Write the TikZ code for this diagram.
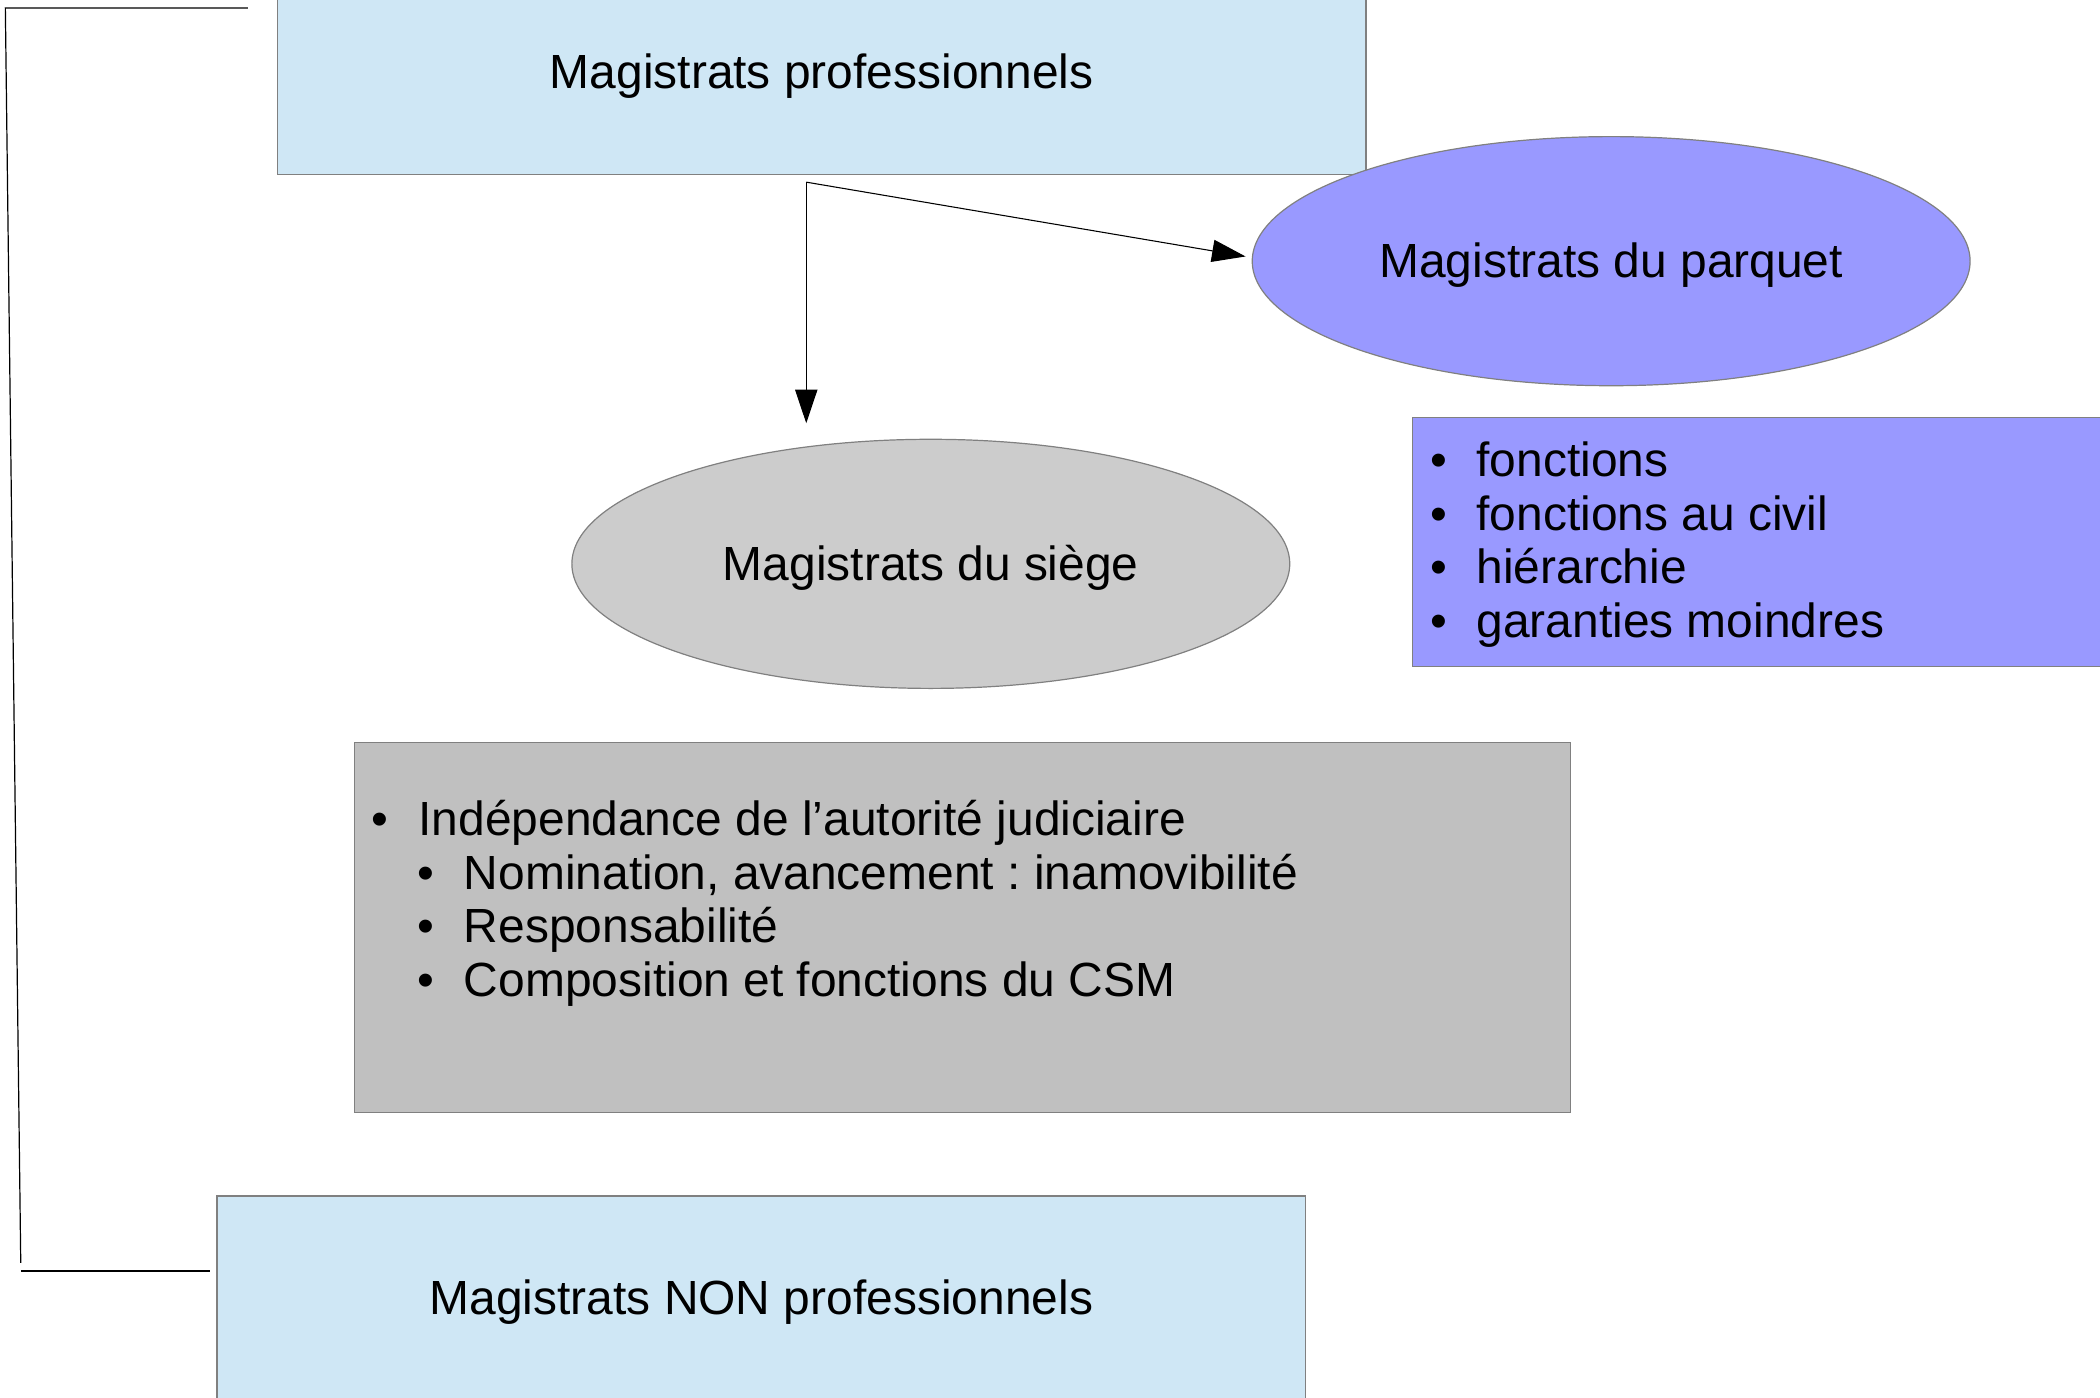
\documentclass[tikz,border=0pt]{standalone}
\usepackage{fontspec}
\setmainfont{Liberation Sans}
\usetikzlibrary{arrows.meta,shapes.geometric}
\definecolor{paleblue}{RGB}{207,231,245}
\definecolor{parquetc}{RGB}{153,153,255}
\definecolor{siegec}{RGB}{204,204,204}
\definecolor{graybox}{RGB}{192,192,192}
\definecolor{edgec}{RGB}{128,128,128}
\newcommand{\lowered}[1]{\raisebox{-1.5pt}[\height][\depth]{#1}}
\tikzset{
  base/.style={draw=edgec, line width=0.45pt, inner sep=0pt, font=\fontsize{17.9}{20}\selectfont},
  bluebox/.style={base, fill=paleblue, rectangle, minimum width=406.5pt, minimum height=76pt},
  ovalnode/.style={base, ellipse, minimum width=268pt, minimum height=93pt},
  listbox/.style={base, rectangle},
  itemtext/.style={anchor=base west, inner sep=0pt, font=\fontsize{17.9}{20}\selectfont},
  conn/.style={draw=black, line width=0.4pt, -{Triangle[length=12.5pt,width=8.3pt]}},
  bracketline/.style={draw=black, line width=0.45pt},
}
\begin{document}
\frenchspacing
\begin{tikzpicture}[x=0.5pt,y=-0.5pt]
\useasboundingbox (0,0) rectangle (1568,1043.8);
\clip (0,0) rectangle (1568,1043.8);
% boxes
\node[bluebox] (pro) at (613.5,54) {\lowered{Magistrats professionnels}};
\node[bluebox] (nonpro) at (568.5,969) {\lowered{Magistrats NON professionnels}};
\node[ovalnode, fill=parquetc] (parquet) at (1203,195) {\lowered{Magistrats du parquet}};
\node[ovalnode, fill=siegec] (siege) at (695,421) {\lowered{Magistrats du siège}};
\node[listbox, fill=parquetc, minimum width=263pt, minimum height=93pt, anchor=north west] (plist) at (1054,311) {};
\node[listbox, fill=graybox, minimum width=454pt, minimum height=138pt, anchor=north west] (slist) at (264,554) {};
% parquet list
\node[itemtext] (p1b) at (1068,356) {•};
\node[itemtext] (p1) at (1102,356) {fonctions};
\node[itemtext] (p2b) at (1068,396) {•};
\node[itemtext] (p2) at (1102,396) {fonctions au civil};
\node[itemtext] (p3b) at (1068,436) {•};
\node[itemtext] (p3) at (1102,436) {hiérarchie};
\node[itemtext] (p4b) at (1068,476) {•};
\node[itemtext] (p4) at (1102,476) {garanties moindres};
% siege list
\node[itemtext] (s1b) at (277,624) {•};
\node[itemtext] (s1) at (312,624) {Indépendance de l’autorité judiciaire};
\node[itemtext] (s2b) at (311,664) {•};
\node[itemtext] (s2) at (346,664) {Nomination, avancement : inamovibilité};
\node[itemtext] (s3b) at (311,704) {•};
\node[itemtext] (s3) at (346,704) {Responsabilité};
\node[itemtext] (s4b) at (311,744) {•};
\node[itemtext] (s4) at (346,744) {Composition et fonctions du CSM};
% connectors
\coordinate (fork) at (602,136);
\coordinate (tipS) at (602,316);
\coordinate (tipP) at (930,191.5);
\draw[conn] (fork) -- (tipS);
\draw[conn] (fork) -- (tipP);
% bracket
\coordinate (b1) at (185,6);
\coordinate (b2) at (4,6);
\coordinate (b3) at (15.5,943);
\coordinate (b4) at (15.5,949);
\coordinate (b5) at (157,949);
\draw[bracketline] (b1) -- (b2) -- (b3);
\draw[bracketline] (b4) -- (b5);
\end{tikzpicture}
\end{document}
